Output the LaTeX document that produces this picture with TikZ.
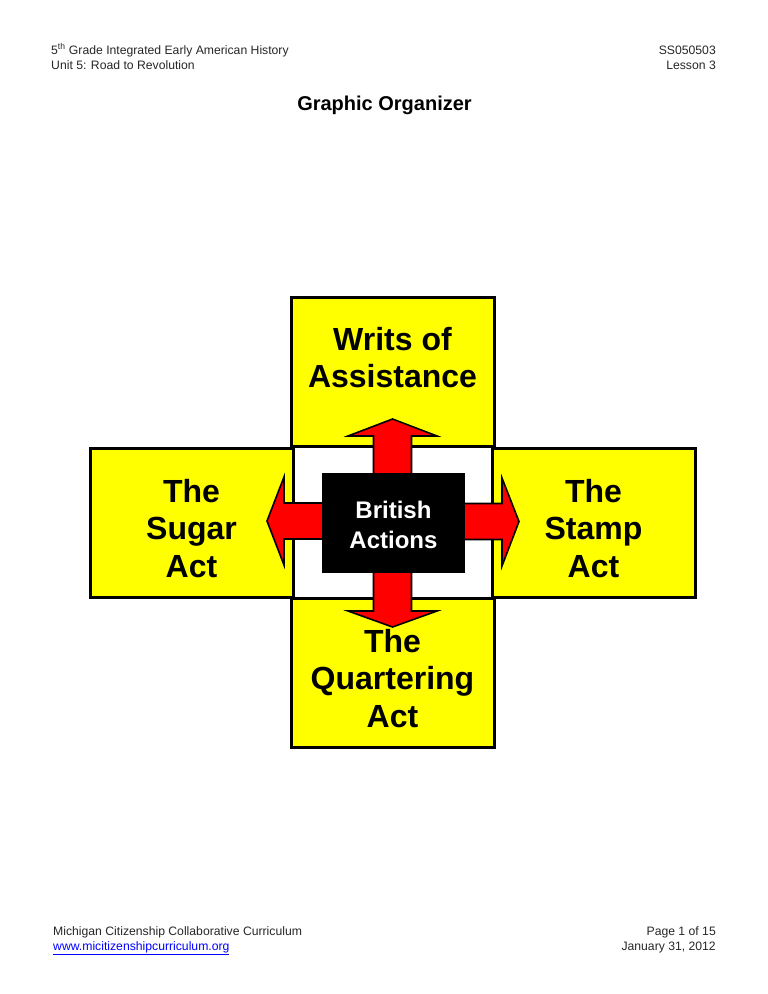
\documentclass[tikz,border=0pt]{standalone}
\usepackage{fontspec}
\setmainfont{Liberation Sans}
\definecolor{boxyellow}{RGB}{255,255,0}
\definecolor{arrred}{RGB}{255,0,0}
\definecolor{linkblue}{RGB}{0,0,255}
\begin{document}
\begin{tikzpicture}[x=1pt,y=-1pt,
  box/.style={draw=black, line width=3pt, fill=boxyellow},
  arr/.style={draw=black, line width=1.6pt, fill=arrred, line join=miter},
  big/.style={font=\fontsize{32}{37.5}\selectfont\bfseries, anchor=base, inner sep=0pt, align=center},
  hdr/.style={font=\fontsize{12.2}{14}\selectfont, inner sep=0pt, anchor=base west, text=black!85},
  hdrr/.style={font=\fontsize{12.2}{14}\selectfont, inner sep=0pt, anchor=base east, text=black!85}]
\useasboundingbox (0,0) rectangle (768,994);
% header
\node[hdr] (h1) at (51,54) {5\textsuperscript{th} Grade Integrated Early American History};
\node[hdr] (h2) at (51,69) {Unit 5: Road to Revolution};
\node[hdrr] (h3) at (716,54) {SS050503};
\node[hdrr] (h4) at (716,69) {Lesson 3};
\node[font=\fontsize{20}{24}\selectfont\bfseries, inner sep=0pt, anchor=base] (title) at (384.5,110) {Graphic Organizer};
% boxes
\draw[box] (291,297) rectangle (494,446);
\draw[box] (90,448) rectangle (293,597);
\draw[box] (492,448) rectangle (695,597);
\draw[box] (291,598) rectangle (494,747);
% arrows
\draw[arr] (373.5,523) -- (373.5,436) -- (348,436) -- (392.5,419) -- (437,436) -- (411.5,436) -- (411.5,523) -- cycle;
\draw[arr] (373.5,523) -- (373.5,611) -- (348,611) -- (392.5,627) -- (437,611) -- (411.5,611) -- (411.5,523) -- cycle;
\draw[arr] (393,503) -- (284,503) -- (284,477) -- (267,521) -- (284,565) -- (284,539) -- (393,539) -- cycle;
\draw[arr] (393,503.5) -- (502,503.5) -- (502,478) -- (519,521.5) -- (502,566) -- (502,539.5) -- (393,539.5) -- cycle;
% centre
\fill[black] (322,473) rectangle (465,573);
\node[font=\fontsize{24}{30}\selectfont\bfseries, text=white, anchor=base, inner sep=0pt, align=center] (brit) at (393.5,548) {British\\Actions};
% labels
\node[big] (writs) at (392.5,387.5) {Writs of\\Assistance};
\node[big] (sugar) at (191.5,577) {The\\Sugar\\Act};
\node[big] (stamp) at (593.5,577) {The\\Stamp\\Act};
\node[big] (quart) at (392.5,727) {The\\Quartering\\Act};
% footer
\node[hdr] (f1) at (53,935) {Michigan Citizenship Collaborative Curriculum};
\node[hdr, text=linkblue] (f2) at (53,950) {\underline{www.micitizenshipcurriculum.org}};
\node[hdrr] (f3) at (716,935) {Page 1 of 15};
\node[hdrr] (f4) at (716,950) {January 31, 2012};
\end{tikzpicture}
\end{document}
